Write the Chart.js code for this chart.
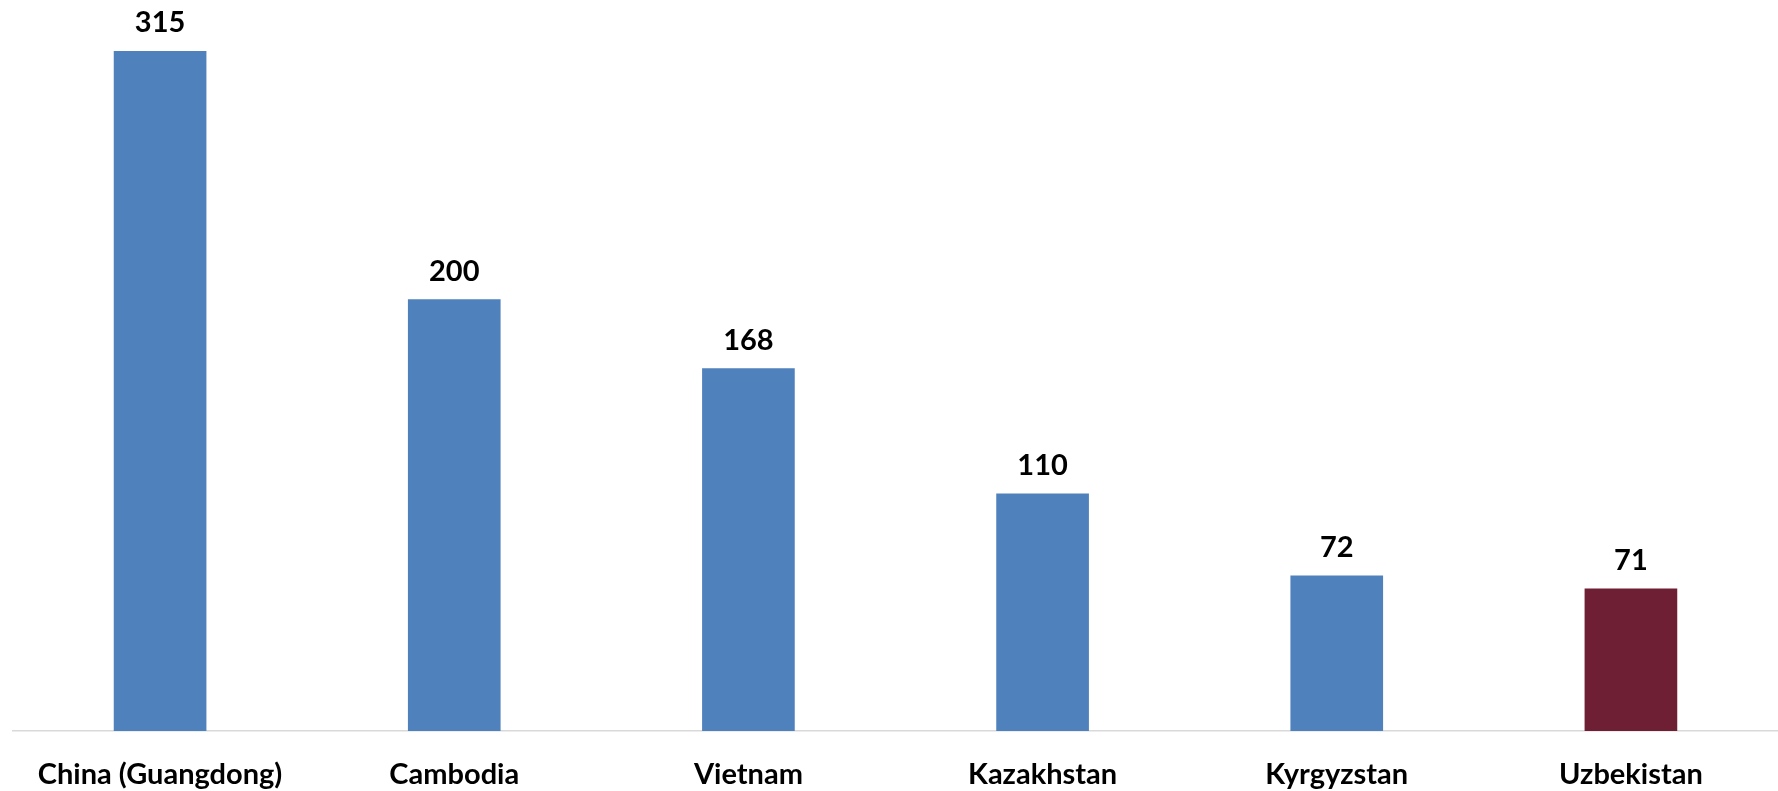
<!DOCTYPE html>
<html>
<head>
<meta charset="utf-8">
<script src="https://cdn.jsdelivr.net/npm/chart.js@4"></script>
<style>
  html, body { margin: 0; padding: 0; background: #fff; }
  #wrap { width: 1778px; height: 791px; position: relative; }
</style>
</head>
<body>
<div id="wrap"><canvas id="chart"></canvas></div>
<script>
// data
const countries = ['China (Guangdong)', 'Cambodia', 'Vietnam', 'Kazakhstan', 'Kyrgyzstan', 'Uzbekistan'];
const barValues = [315, 200, 168, 110, 72, 66];
const valueLabels = ['315', '200', '168', '110', '72', '71'];
const barColors = ['#4F81BD', '#4F81BD', '#4F81BD', '#4F81BD', '#4F81BD', '#6E1F33'];

const FONT = 'Lato, Calibri, Carlito, sans-serif';

// draws the number above each bar
const valueLabelPlugin = {
    id: 'valueLabels',
    afterDatasetsDraw: (chart) => {
        const ctx = chart.ctx;
        const meta = chart.getDatasetMeta(0);
        ctx.save();
        ctx.font = 'bold 29px ' + FONT;
        ctx.fillStyle = '#000';
        ctx.textAlign = 'center';
        ctx.textBaseline = 'middle';
        meta.data.forEach((bar, i) => {
            ctx.fillText(valueLabels[i], bar.x, bar.y - 28);
        });
        ctx.restore();
    }
};

new Chart(document.getElementById('chart'), {
    type: 'bar',
    data: {
        labels: countries,
        datasets: [{
            data: barValues,
            backgroundColor: barColors,
            borderWidth: 0,
            barPercentage: 1,
            categoryPercentage: 0.315
        }]
    },
    options: {
        responsive: true,
        maintainAspectRatio: false,
        animation: false,
        layout: { padding: { left: 13, right: 0, top: 0, bottom: 0 } },
        plugins: {
            legend: { display: false },
            tooltip: { enabled: false }
        },
        scales: {
            x: {
                grid: { display: false, drawTicks: false },
                border: { display: true, color: '#d9d9d9', width: 1.5 },
                ticks: {
                    color: '#000',
                    font: { family: FONT, size: 29, weight: 'bold' },
                    padding: 26,
                    maxRotation: 0,
                    autoSkip: false
                },
                afterFit: (scale) => { scale.height = 60; }
            },
            y: {
                display: false,
                min: 0,
                max: 338.6
            }
        }
    },
    plugins: [valueLabelPlugin]
});
</script>
</body>
</html>
